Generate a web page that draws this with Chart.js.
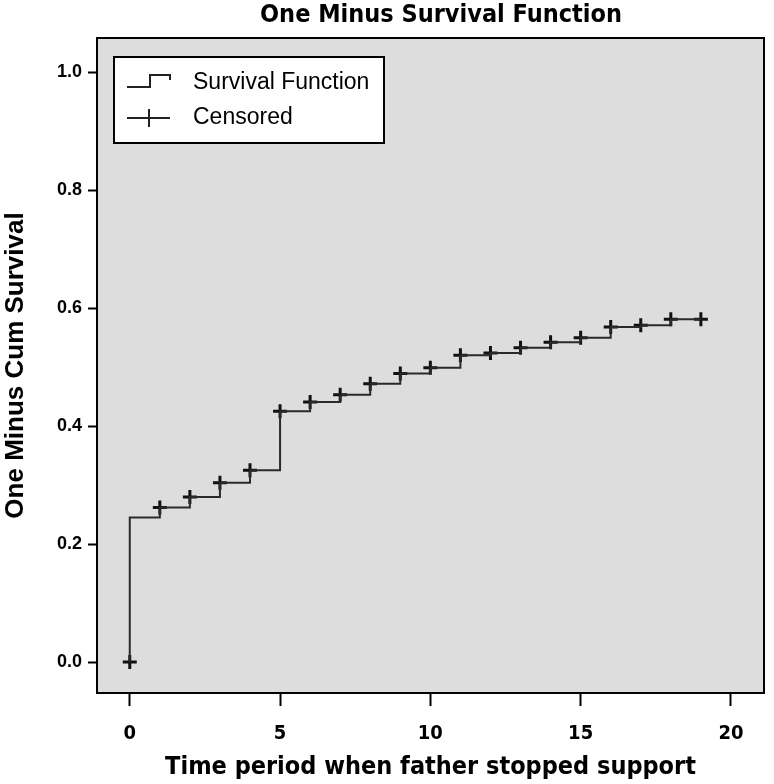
<!DOCTYPE html>
<html>
<head>
<meta charset="utf-8">
<script src="https://cdn.jsdelivr.net/npm/chart.js@4"></script>
<style>
html,body{margin:0;padding:0;background:#fff;}
#wrap{width:774px;height:784px;position:relative;}
</style>
</head>
<body>
<div id="wrap"><canvas id="c" width="774" height="784"></canvas></div>
<script>
// Data
const times = [0,1,2,3,4,5,6,7,8,9,10,11,12,13,14,15,16,17,18,19];
const oneMinusCumSurvival = [0.245,0.262,0.280,0.304,0.325,0.425,0.441,0.453,0.472,0.489,0.499,0.520,0.524,0.533,0.542,0.550,0.568,0.571,0.581,0.581];
const startValue = 0.0;
const censoredTimes = [0,1,2,3,4,5,6,7,8,9,10,11,12,13,14,15,16,17,18,19];
const censoredValues = [0.0,0.262,0.280,0.304,0.325,0.425,0.441,0.453,0.472,0.489,0.499,0.520,0.524,0.533,0.542,0.550,0.568,0.571,0.581,0.581];
const xTicks = [0,5,10,15,20];
const yTicks = [0.0,0.2,0.4,0.6,0.8,1.0];
const legendLabels = ['Survival Function','Censored'];
const chartTitle = 'One Minus Survival Function';

const NARROW = "'Liberation Sans Narrow','DejaVu Sans Condensed',Arial,sans-serif";
const SANS = "'Liberation Sans',Arial,sans-serif";

const stepData = [{x: times[0], y: startValue}].concat(times.map((t,i)=>({x:t, y:oneMinusCumSurvival[i]})));
const censData = censoredTimes.map((t,i)=>({x:t, y:censoredValues[i]}));

const framePlugin = {
  id: 'frame',
  beforeDatasetsDraw(chart){
    const {ctx, chartArea:a} = chart;
    ctx.save();
    ctx.fillStyle = '#dddddd';
    ctx.fillRect(a.left, a.top, a.right-a.left, a.bottom-a.top);
    ctx.restore();
  },
  afterDraw(chart){
    const {ctx, chartArea:a} = chart;
    ctx.save();
    // title
    ctx.fillStyle = '#000';
    ctx.font = "bold 25px " + NARROW;
    ctx.textAlign = 'center';
    ctx.textBaseline = 'middle';
    ctx.fillText(chartTitle, 441, 15);
    // frame
    ctx.strokeStyle = '#000';
    ctx.lineWidth = 2;
    ctx.strokeRect(a.left, a.top, a.right-a.left, a.bottom-a.top);
    // legend box
    const lx = a.left + 17, ly = a.top + 19, lw = 270, lh = 86;
    ctx.fillStyle = '#fff';
    ctx.fillRect(lx, ly, lw, lh);
    ctx.lineWidth = 2;
    ctx.strokeRect(lx, ly, lw, lh);
    // step icon
    ctx.strokeStyle = '#222';
    ctx.lineWidth = 2;
    ctx.beginPath();
    const r1 = ly + 26;
    ctx.moveTo(lx+13, r1+4);
    ctx.lineTo(lx+36, r1+4);
    ctx.lineTo(lx+36, r1-8);
    ctx.lineTo(lx+56, r1-8);
    ctx.lineTo(lx+56, r1-3);
    ctx.stroke();
    // cross icon
    const r2 = ly + 61;
    ctx.beginPath();
    ctx.moveTo(lx+13, r2); ctx.lineTo(lx+56, r2);
    ctx.moveTo(lx+35, r2-9); ctx.lineTo(lx+35, r2+9);
    ctx.stroke();
    ctx.fillStyle = '#000';
    ctx.font = "23px " + SANS;
    ctx.textBaseline = 'middle';
    ctx.textAlign = 'left';
    ctx.fillText(legendLabels[0], lx+79, r1);
    ctx.fillText(legendLabels[1], lx+79, r2);
    ctx.restore();
  }
};

new Chart(document.getElementById('c'), {
  type: 'scatter',
  data: {
    datasets: [
      {
        label: legendLabels[0],
        data: stepData,
        showLine: true,
        stepped: true,
        borderColor: '#2a2a2a',
        borderWidth: 2,
        pointRadius: 0,
        fill: false
      },
      {
        label: legendLabels[1],
        data: censData,
        showLine: false,
        pointStyle: 'cross',
        pointRadius: 7,
        pointBorderWidth: 3,
        borderColor: '#111',
        backgroundColor: '#111'
      }
    ]
  },
  options: {
    responsive: false,
    animation: false,
    devicePixelRatio: 1,
    layout: { padding: { top: 38, right: 8, bottom: 0, left: 0 } },
    plugins: {
      legend: { display: false },
      tooltip: { enabled: false },
      title: { display: false }
    },
    scales: {
      x: {
        type: 'linear',
        min: -1.09,
        max: 21.1,
        afterBuildTicks(s){ s.ticks = xTicks.map(v=>({value:v})); },
        afterFit(s){ s.height = 91; },
        grid: { drawOnChartArea: false, drawTicks: true, tickLength: 13, tickColor: '#000', tickWidth: 2 },
        border: { display: false },
        ticks: { color: '#000', font: { family: NARROW, size: 20, weight: 'bold' }, padding: 16, maxRotation: 0 },
        title: {
          display: true,
          text: 'Time period when father stopped support',
          color: '#000',
          font: { family: NARROW, size: 25, weight: 'bold' },
          padding: { top: 0, bottom: 2 }
        }
      },
      y: {
        type: 'linear',
        min: -0.0525,
        max: 1.058,
        afterBuildTicks(s){ s.ticks = yTicks.map(v=>({value:v})); },
        afterFit(s){ s.width = 97; },
        grid: { drawOnChartArea: false, drawTicks: true, tickLength: 9, tickColor: '#000', tickWidth: 2 },
        border: { display: false },
        ticks: { color: '#000', font: { family: SANS, size: 18, weight: 'bold' }, padding: 6,
                 callback: v => Number(v).toFixed(1) },
        title: {
          display: true,
          text: 'One Minus Cum Survival',
          color: '#000',
          font: { family: SANS, size: 26, weight: 'bold' },
          padding: { top: 0, bottom: 4 }
        }
      }
    }
  },
  plugins: [framePlugin]
});
</script>
</body>
</html>
